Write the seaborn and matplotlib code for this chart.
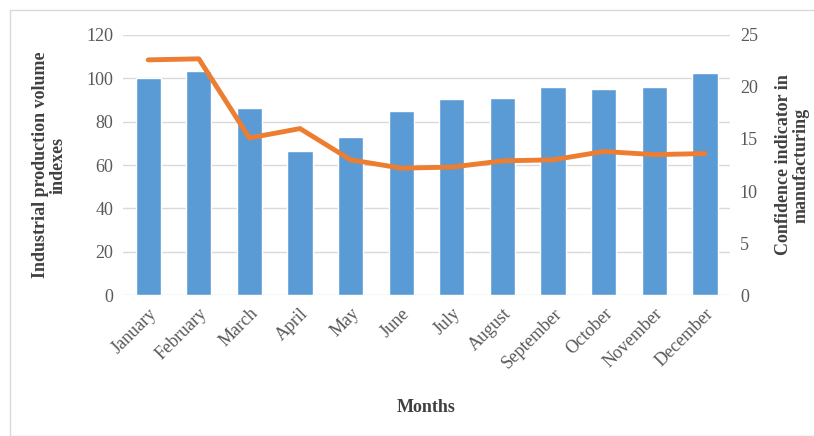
import numpy as np
import pandas as pd
import seaborn as sns
import matplotlib.pyplot as plt
from matplotlib.patches import Rectangle

months = ["January", "February", "March", "April", "May", "June", "July",
          "August", "September", "October", "November", "December"]
production = [100, 103.5, 86.5, 66.5, 73, 85, 90.5, 91, 96, 95, 96, 102.5]
confidence = [22.6, 22.7, 15.1, 16.0, 13.0, 12.2, 12.3, 12.9, 13.0, 13.8, 13.5, 13.6]

sns.set_theme(style="white")
plt.rcParams["font.family"] = ["Liberation Serif", "DejaVu Serif"]

df = pd.DataFrame({"month": months, "production": production, "confidence": confidence})

fig = plt.figure(figsize=(8.14, 4.36), dpi=100)
fig.patches.append(Rectangle((10 / 814, 0), 1, 1 - 10 / 436, transform=fig.transFigure,
                             fill=False, edgecolor="#d9d9d9", linewidth=1))
ax = fig.add_axes([0.151, 0.323, 0.746, 0.597])

sns.barplot(data=df, x="month", y="production", color="#5b9bd5", width=0.5,
            saturation=1, ax=ax, zorder=2)
ax.set_ylim(0, 120)
ax.set_yticks(range(0, 121, 20))
ax.set_xlim(-0.5, 11.5)
ax.grid(axis="y", color="#d9d9d9", linewidth=1, zorder=0)
ax.set_axisbelow(True)
for s in ax.spines.values():
    s.set_visible(False)
ax.tick_params(axis="both", length=0, colors="#595959", labelsize=13, pad=7)
plt.setp(ax.get_xticklabels(), rotation=45, ha="right", rotation_mode="anchor")
ax.set_xlabel("Months", fontsize=13, fontweight="bold", color="#404040", labelpad=20)
ax.set_ylabel("Industrial production volume\nindexes", fontsize=13, fontweight="bold",
              color="#404040", labelpad=14, linespacing=1.05)

ax2 = ax.twinx()
sns.lineplot(x=np.arange(len(months)), y=confidence, color="#ed7d31", linewidth=3.5,
             ax=ax2, zorder=3)
ax2.set_ylim(0, 25)
ax2.set_yticks(range(0, 26, 5))
ax2.set_xlim(-0.5, 11.5)
for s in ax2.spines.values():
    s.set_visible(False)
ax2.tick_params(axis="y", length=0, colors="#595959", labelsize=13, pad=7)
ax2.set_ylabel("Confidence indicator in\nmanufacturing", fontsize=13, fontweight="bold",
               color="#404040", labelpad=12, linespacing=1.05)

fig.savefig("out.png", dpi=100)
